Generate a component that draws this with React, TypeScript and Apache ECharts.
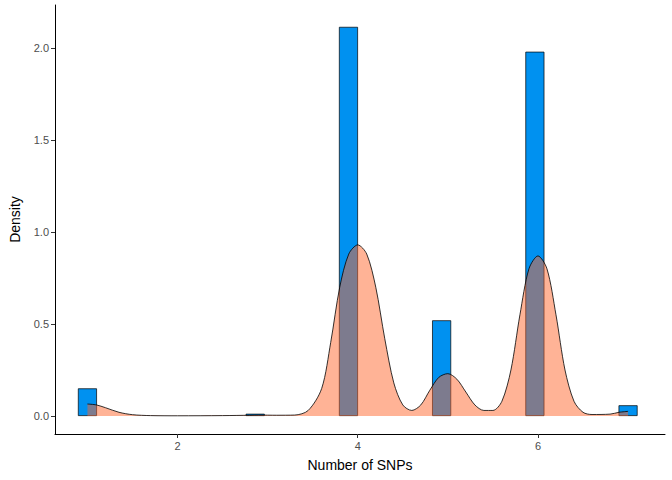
import React, { useEffect, useRef } from "react";
import * as echarts from "echarts";

// histogram bins (centre, density)
const binCenters = [1.0, 2.862, 3.897, 4.931, 5.966, 7.0];
const binDensity = [0.15, 0.012, 2.115, 0.52, 1.98, 0.058];

// kernel density curve
const densX = [
  1.0, 1.1, 1.2, 1.35, 1.5, 1.7, 2.0, 2.5, 2.8, 2.9, 3.1, 3.3, 3.45, 3.6, 3.7,
  3.8, 3.9, 4.0, 4.1, 4.2, 4.3, 4.4, 4.5, 4.6, 4.7, 4.8, 4.9, 5.0, 5.1, 5.2,
  5.3, 5.4, 5.5, 5.6, 5.7, 5.8, 5.9, 6.0, 6.1, 6.2, 6.3, 6.4, 6.5, 6.6, 6.8,
  6.9, 7.0,
];
const densY = [
  0.065, 0.06, 0.045, 0.02, 0.007, 0.002, 0.001, 0.002, 0.004, 0.005, 0.004,
  0.005, 0.03, 0.15, 0.4, 0.7, 0.88, 0.93, 0.88, 0.7, 0.42, 0.18, 0.06, 0.03,
  0.06, 0.14, 0.21, 0.23, 0.2, 0.13, 0.06, 0.03, 0.03, 0.08, 0.25, 0.55, 0.8,
  0.87, 0.8, 0.55, 0.25, 0.08, 0.02, 0.008, 0.01, 0.02, 0.025,
];

const xTicks = [2, 4, 6];
const yTicks = [0, 0.5, 1, 1.5, 2];

const labelStyle = { color: "#4d4d4d", fontSize: 11, fontFamily: "Liberation Sans" };

const App: React.FC = () => {
  const chartRef = useRef<HTMLDivElement>(null);

  useEffect(() => {
    if (!chartRef.current) return;
    const chart = echarts.init(chartRef.current, undefined, { renderer: "svg" });
    chart.setOption({
      animation: false,
      grid: { left: 49, right: 7, top: 5, bottom: 46 },
      xAxis: {
        type: "value",
        min: 0.64,
        max: 7.41,
        name: "Number of SNPs",
        nameLocation: "middle",
        nameGap: 24,
        nameTextStyle: { color: "#000", fontSize: 14, fontFamily: "Liberation Sans" },
        axisLine: { show: true, onZero: false, lineStyle: { color: "#000" } },
        axisTick: { show: true, customValues: xTicks, length: 4, lineStyle: { color: "#333" } },
        axisLabel: { ...labelStyle, customValues: xTicks, margin: 6 },
        splitLine: { show: false },
      },
      yAxis: {
        type: "value",
        min: -0.098,
        max: 2.234,
        name: "Density",
        nameLocation: "middle",
        nameGap: 33,
        nameTextStyle: { color: "#000", fontSize: 14, fontFamily: "Liberation Sans" },
        axisLine: { show: true, onZero: false, lineStyle: { color: "#000" } },
        axisTick: { show: true, customValues: yTicks, length: 4, lineStyle: { color: "#333" } },
        axisLabel: {
          ...labelStyle,
          customValues: yTicks,
          margin: 6,
          formatter: (v: number) => v.toFixed(1),
        },
        splitLine: { show: false },
      },
      series: [
        {
          type: "bar",
          data: binCenters.map((x, i) => [x, binDensity[i]]),
          barWidth: 19,
          itemStyle: { color: "#0091f0", borderColor: "#000", borderWidth: 0.7 },
        },
        {
          type: "line",
          data: densX.map((x, i) => [x, densY[i]]),
          smooth: 0.3,
          symbol: "none",
          lineStyle: { color: "#000", width: 0.8 },
          areaStyle: { color: "rgba(255,100,40,0.7)", origin: 0 },
        },
      ],
    });
    return () => chart.dispose();
  }, []);

  return (
    <div
      ref={chartRef}
      style={{ position: "absolute", left: 0, top: 0, width: 672, height: 480 }}
    />
  );
};

export default App;
